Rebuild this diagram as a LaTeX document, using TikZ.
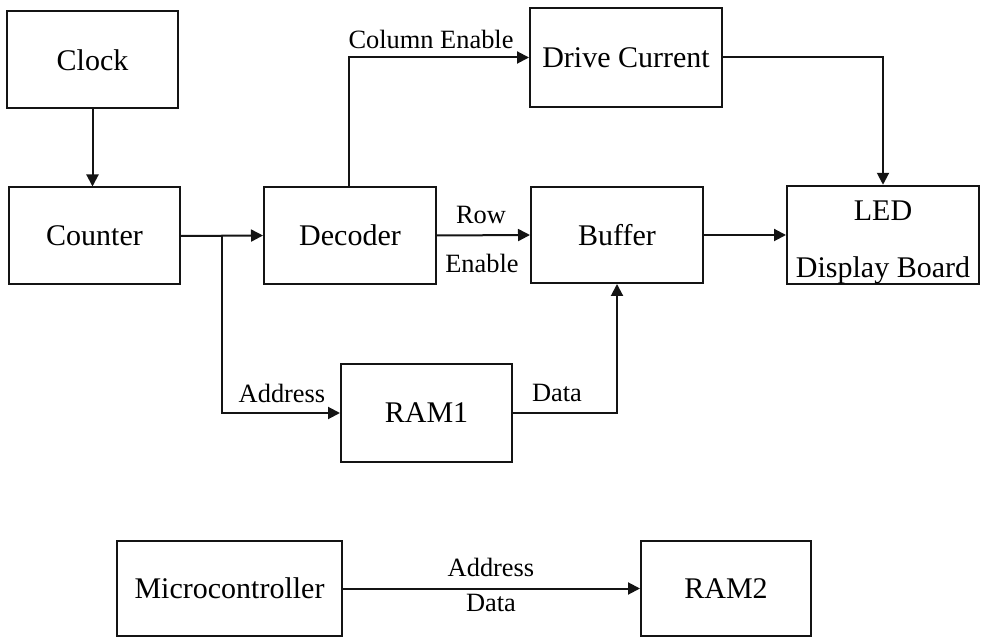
\documentclass[tikz,border=0pt]{standalone}
\usepackage{fontspec}
\setmainfont{Liberation Serif}
\usetikzlibrary{arrows.meta}
\definecolor{inkcol}{gray}{0.08}
\tikzset{
  blk/.style={draw=inkcol,line width=1pt,rectangle,inner sep=0pt,minimum width=85.5pt,minimum height=48.5pt,font=\fontsize{15}{28.5}\selectfont,align=center},
  lab/.style={font=\fontsize{13.2}{15}\selectfont,inner sep=0pt},
  conn/.style={draw=inkcol,line width=1pt,-{Triangle[length=6pt,width=6pt]}},
}
\begin{document}
\begin{tikzpicture}[x=0.5pt,y=0.5pt]
  \useasboundingbox (0,0) rectangle (984,-640);
  \node[blk] (clock) at (92.5,-60) {Clock};
  \node[blk] (counter) at (94.5,-236) {Counter};
  \node[blk,minimum width=86pt] (decoder) at (350,-235.5) {Decoder};
  \node[blk,minimum width=96pt,minimum height=49.5pt] (drive) at (626,-57.5) {Drive Current};
  \node[blk,minimum width=86pt,minimum height=48pt] (buffer) at (617,-235) {Buffer};
  \node[blk,minimum width=96pt,minimum height=48pt] (led) at (883,-235) {\rule{0pt}{17.5pt}LED\\Display Board};
  \node[blk,minimum height=49pt] (ram1) at (426.5,-413) {RAM1};
  \node[blk,minimum width=112.5pt,minimum height=47.5pt] (mcu) at (229.5,-588.5) {Microcontroller};
  \node[blk,minimum width=85pt,minimum height=47.5pt] (ram2) at (726,-588.5) {RAM2};
  \coordinate (split) at (222,-236);
  \draw[conn] (clock.south) -- (clock.south |- counter.north);
  \draw[conn] (counter.east) -- (decoder.west);
  \draw[conn] (split) |- (ram1.west);
  \draw[conn] ([xshift=-0.5pt]decoder.north) |- (drive.west);
  \draw[conn] (decoder.east) -- (buffer.west);
  \draw[conn] (drive.east) -| (led.north);
  \draw[conn] (buffer.east) -- (led.west);
  \draw[conn] (ram1.east) -| (buffer.south);
  \draw[conn] (mcu.east) -- (ram2.west);
  \node[lab] (lcol) at (431,-39) {Column Enable};
  \node[lab] (lrow) at (481,-215) {Row};
  \node[lab] (lena) at (482,-263) {Enable};
  \node[lab] (laddr) at (282,-393) {Address};
  \node[lab] (ldata) at (557,-393) {Data};
  \node[lab] (maddr) at (491,-567) {Address};
  \node[lab] (mdata) at (491,-603) {Data};
\end{tikzpicture}
\end{document}
